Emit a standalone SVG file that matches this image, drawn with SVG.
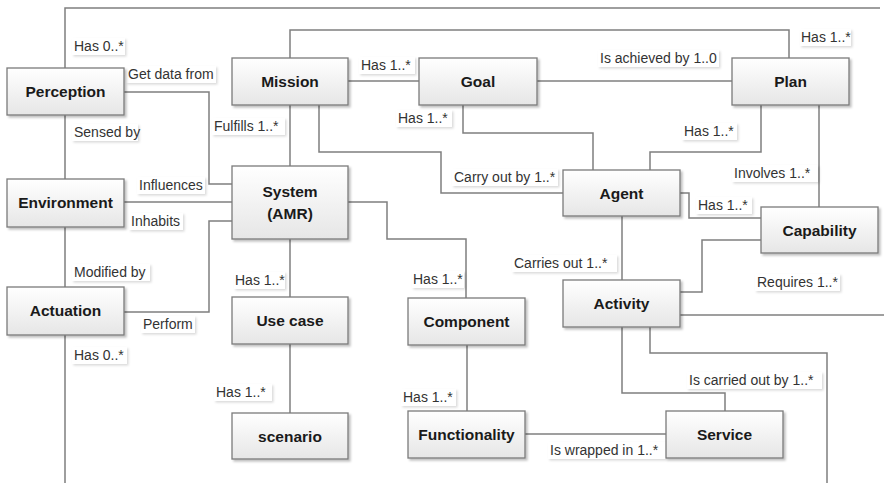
<svg xmlns="http://www.w3.org/2000/svg" width="884" height="483" viewBox="0 0 884 483">
  <defs>
    <linearGradient id="boxFill" x1="0" y1="0" x2="0" y2="1">
      <stop offset="0" stop-color="#ffffff"/>
      <stop offset="1" stop-color="#e6e6e6"/>
    </linearGradient>
    <filter id="shadow" x="-10%" y="-10%" width="125%" height="130%">
      <feDropShadow dx="2" dy="2" stdDeviation="1.2" flood-color="#000" flood-opacity="0.25"/>
    </filter>
    <filter id="lblShadow" x="-10%" y="-10%" width="125%" height="140%">
      <feDropShadow dx="1.5" dy="1.5" stdDeviation="0.8" flood-color="#000" flood-opacity="0.15"/>
    </filter>
  </defs>
  <style>
    .box { fill: url(#boxFill); stroke: #7a7a7a; stroke-width: 1.3; filter: url(#shadow); }
    .name { font-family: "Liberation Sans", Arial, sans-serif; font-weight: bold; font-size: 15.5px; fill: #1a1a1a; text-anchor: middle; }
    .wire { fill: none; stroke: #7f7f7f; stroke-width: 1.5; }
    .lbl rect { fill: #ffffff; filter: url(#lblShadow); }
    .lbl text { font-family: "Liberation Sans", Arial, sans-serif; font-size: 14px; fill: #333333; }
  </style>
  <rect width="884" height="483" fill="#ffffff"/>

  <!-- connectors -->
  <g id="connectors">
    <path class="wire" d="M65,483 V8 H880"/>
    <path class="wire" d="M124,92 H209 V184 H232"/>
    <path class="wire" d="M124,202 H232"/>
    <path class="wire" d="M124,312 H209 V221 H232"/>
    <path class="wire" d="M348,81 H419"/>
    <path class="wire" d="M537,81 H732"/>
    <path class="wire" d="M290,58 V30 H789 V58"/>
    <path class="wire" d="M290,105 V166"/>
    <path class="wire" d="M319,105 V152 H441 V193 H563"/>
    <path class="wire" d="M463,105 V133 H593 V170"/>
    <path class="wire" d="M761,105 V152 H650 V170"/>
    <path class="wire" d="M819,105 V207"/>
    <path class="wire" d="M680,193 H689 V218 H761"/>
    <path class="wire" d="M761,240 H702 V292 H680"/>
    <path class="wire" d="M680,315 H884"/>
    <path class="wire" d="M622,216 V280"/>
    <path class="wire" d="M622,327 V393 H725 V411"/>
    <path class="wire" d="M650,327 V353 H827 V483"/>
    <path class="wire" d="M290,239 V297"/>
    <path class="wire" d="M290,344 V413"/>
    <path class="wire" d="M348,202 H387 V239 H466 V298"/>
    <path class="wire" d="M467,345 V411"/>
    <path class="wire" d="M525,434 H666"/>
  </g>

  <!-- connector labels -->
  <g id="labels">
    <g class="lbl"><rect x="72" y="38" width="53" height="17"/><text x="74" y="51">Has 0..*</text></g>
    <g class="lbl"><rect x="126" y="66" width="90" height="17"/><text x="128" y="79">Get data from</text></g>
    <g class="lbl"><rect x="72" y="124" width="66" height="17"/><text x="74" y="137">Sensed by</text></g>
    <g class="lbl"><rect x="212" y="118" width="73" height="17"/><text x="214" y="131">Fulfills 1..*</text></g>
    <g class="lbl"><rect x="359" y="57" width="56" height="17"/><text x="361" y="70">Has 1..*</text></g>
    <g class="lbl"><rect x="396" y="110" width="56" height="17"/><text x="398" y="123">Has 1..*</text></g>
    <g class="lbl"><rect x="598" y="50" width="121" height="17"/><text x="600" y="63">Is achieved by 1..0</text></g>
    <g class="lbl"><rect x="800" y="29" width="51" height="17"/><text x="801" y="42">Has 1..*</text></g>
    <g class="lbl"><rect x="682" y="123" width="55" height="17"/><text x="684" y="136">Has 1..*</text></g>
    <g class="lbl"><rect x="732" y="165" width="86" height="17"/><text x="734" y="178">Involves 1..*</text></g>
    <g class="lbl"><rect x="452" y="169" width="106" height="17"/><text x="454" y="182">Carry out by 1..*</text></g>
    <g class="lbl"><rect x="696" y="197" width="56" height="17"/><text x="698" y="210">Has 1..*</text></g>
    <g class="lbl"><rect x="137" y="177" width="68" height="17"/><text x="139" y="190">Influences</text></g>
    <g class="lbl"><rect x="129" y="213" width="54" height="17"/><text x="131" y="226">Inhabits</text></g>
    <g class="lbl"><rect x="512" y="255" width="105" height="17"/><text x="514" y="268">Carries out 1..*</text></g>
    <g class="lbl"><rect x="755" y="274" width="85" height="17"/><text x="757" y="287">Requires 1..*</text></g>
    <g class="lbl"><rect x="72" y="264" width="78" height="17"/><text x="74" y="277">Modified by</text></g>
    <g class="lbl"><rect x="234" y="272" width="51" height="17"/><text x="235" y="285">Has 1..*</text></g>
    <g class="lbl"><rect x="412" y="271" width="52" height="17"/><text x="413" y="284">Has 1..*</text></g>
    <g class="lbl"><rect x="141" y="316" width="54" height="17"/><text x="143" y="329">Perform</text></g>
    <g class="lbl"><rect x="72" y="347" width="55" height="17"/><text x="74" y="360">Has 0..*</text></g>
    <g class="lbl"><rect x="214" y="384" width="58" height="17"/><text x="216" y="397">Has 1..*</text></g>
    <g class="lbl"><rect x="401" y="389" width="55" height="17"/><text x="403" y="402">Has 1..*</text></g>
    <g class="lbl"><rect x="687" y="372" width="135" height="17"/><text x="689" y="385">Is carried out by 1..*</text></g>
    <g class="lbl"><rect x="548" y="442" width="118" height="17"/><text x="550" y="455">Is wrapped in 1..*</text></g>
  </g>

  <!-- nodes -->
  <g id="perception"><rect class="box" x="7" y="68" width="117" height="47"/><text class="name" x="65.5" y="97">Perception</text></g>
  <g id="environment"><rect class="box" x="7" y="179" width="117" height="48"/><text class="name" x="65.5" y="208">Environment</text></g>
  <g id="actuation"><rect class="box" x="7" y="287" width="117" height="48"/><text class="name" x="65.5" y="316">Actuation</text></g>
  <g id="mission"><rect class="box" x="232" y="58" width="116" height="47"/><text class="name" x="290" y="87">Mission</text></g>
  <g id="system"><rect class="box" x="232" y="166" width="116" height="73"/><text class="name" x="290" y="197">System</text><text class="name" x="290" y="219">(AMR)</text></g>
  <g id="use-case"><rect class="box" x="232" y="297" width="116" height="47"/><text class="name" x="290" y="326">Use case</text></g>
  <g id="scenario"><rect class="box" x="232" y="413" width="116" height="46"/><text class="name" x="290" y="442">scenario</text></g>
  <g id="goal"><rect class="box" x="419" y="58" width="118" height="47"/><text class="name" x="478" y="87">Goal</text></g>
  <g id="component"><rect class="box" x="408" y="298" width="117" height="47"/><text class="name" x="466.5" y="327">Component</text></g>
  <g id="functionality"><rect class="box" x="408" y="411" width="117" height="47"/><text class="name" x="466.5" y="440">Functionality</text></g>
  <g id="agent"><rect class="box" x="563" y="170" width="117" height="46"/><text class="name" x="621.5" y="199">Agent</text></g>
  <g id="activity"><rect class="box" x="563" y="280" width="117" height="47"/><text class="name" x="621.5" y="309">Activity</text></g>
  <g id="plan"><rect class="box" x="732" y="58" width="117" height="47"/><text class="name" x="790.5" y="87">Plan</text></g>
  <g id="capability"><rect class="box" x="761" y="207" width="117" height="46"/><text class="name" x="819.5" y="236">Capability</text></g>
  <g id="service"><rect class="box" x="666" y="411" width="117" height="47"/><text class="name" x="724.5" y="440">Service</text></g>
</svg>
